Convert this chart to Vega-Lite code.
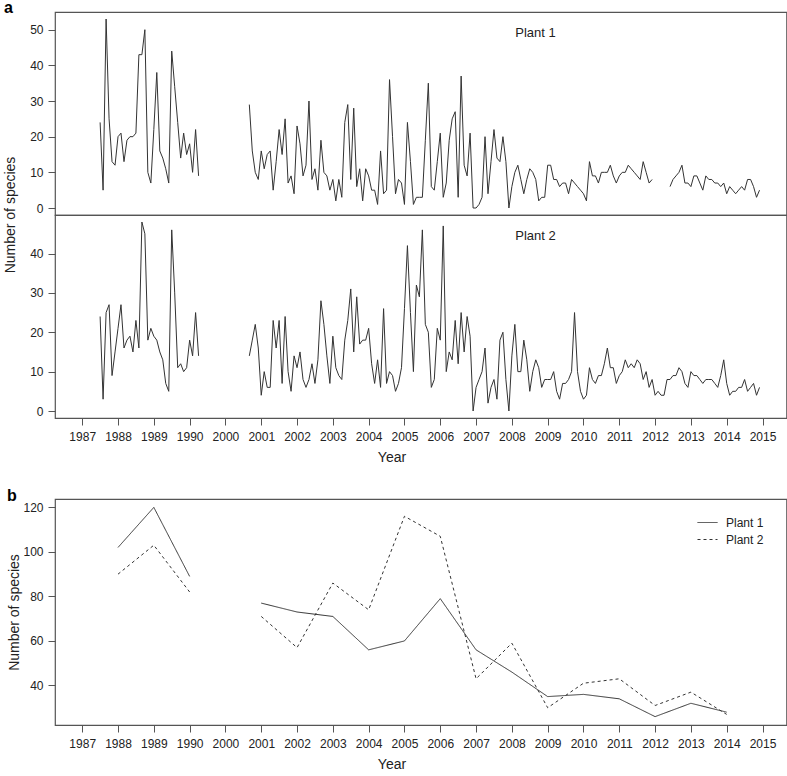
{
  "$schema": "https://vega.github.io/schema/vega-lite/v6.json",
  "padding": {"left": 3, "top": 0, "right": 3, "bottom": 2},
  "background": "white",
  "config": {
    "font": "Liberation Sans",
    "view": {"stroke": "#555", "strokeWidth": 1.2},
    "axis": {"domain": false, "grid": false, "ticks": true, "tickColor": "#555", "tickSize": 7, "tickWidth": 1, "labelFontSize": 12, "labelColor": "#222", "titleFontSize": 14, "titleFontWeight": "normal", "titleColor": "#222", "labelFlush": false, "labelOverlap": false},
    "axisY": {"labelPadding": 5, "minExtent": 22, "maxExtent": 22, "titlePadding": 7},
    "title": {"fontSize": 16, "fontWeight": "bold", "anchor": "start", "frame": "bounds", "color": "#000", "offset": -5}
  },
  "datasets": {
    "a": [
      {"p":"Plant 1","s":1,"t":0.5,"n":24},{"p":"Plant 1","s":1,"t":0.583,"n":5},{"p":"Plant 1","s":1,"t":0.667,"n":53},{"p":"Plant 1","s":1,"t":0.75,"n":25},{"p":"Plant 1","s":1,"t":0.833,"n":13},{"p":"Plant 1","s":1,"t":0.917,"n":12},
      {"p":"Plant 1","s":1,"t":1,"n":20},{"p":"Plant 1","s":1,"t":1.083,"n":21},{"p":"Plant 1","s":1,"t":1.167,"n":13},{"p":"Plant 1","s":1,"t":1.25,"n":19},{"p":"Plant 1","s":1,"t":1.333,"n":20},{"p":"Plant 1","s":1,"t":1.417,"n":20},{"p":"Plant 1","s":1,"t":1.5,"n":21},{"p":"Plant 1","s":1,"t":1.583,"n":43},{"p":"Plant 1","s":1,"t":1.667,"n":43},{"p":"Plant 1","s":1,"t":1.75,"n":50},{"p":"Plant 1","s":1,"t":1.833,"n":10},{"p":"Plant 1","s":1,"t":1.917,"n":7},
      {"p":"Plant 1","s":1,"t":2,"n":22},{"p":"Plant 1","s":1,"t":2.083,"n":38},{"p":"Plant 1","s":1,"t":2.167,"n":16},{"p":"Plant 1","s":1,"t":2.25,"n":14},{"p":"Plant 1","s":1,"t":2.333,"n":11},{"p":"Plant 1","s":1,"t":2.417,"n":7},{"p":"Plant 1","s":1,"t":2.5,"n":44},{"p":"Plant 1","s":1,"t":2.583,"n":34},{"p":"Plant 1","s":1,"t":2.667,"n":24},{"p":"Plant 1","s":1,"t":2.75,"n":14},{"p":"Plant 1","s":1,"t":2.833,"n":21},{"p":"Plant 1","s":1,"t":2.917,"n":15},
      {"p":"Plant 1","s":1,"t":3,"n":18},{"p":"Plant 1","s":1,"t":3.083,"n":10},{"p":"Plant 1","s":1,"t":3.167,"n":22},{"p":"Plant 1","s":1,"t":3.25,"n":9},
      {"p":"Plant 1","s":2,"t":4.667,"n":29},{"p":"Plant 1","s":2,"t":4.75,"n":16},{"p":"Plant 1","s":2,"t":4.833,"n":10},{"p":"Plant 1","s":2,"t":4.917,"n":8},
      {"p":"Plant 1","s":2,"t":5,"n":16},{"p":"Plant 1","s":2,"t":5.083,"n":11},{"p":"Plant 1","s":2,"t":5.167,"n":15},{"p":"Plant 1","s":2,"t":5.25,"n":16},{"p":"Plant 1","s":2,"t":5.333,"n":5},{"p":"Plant 1","s":2,"t":5.417,"n":13},{"p":"Plant 1","s":2,"t":5.5,"n":22},{"p":"Plant 1","s":2,"t":5.583,"n":15},{"p":"Plant 1","s":2,"t":5.667,"n":25},{"p":"Plant 1","s":2,"t":5.75,"n":7},{"p":"Plant 1","s":2,"t":5.833,"n":9},{"p":"Plant 1","s":2,"t":5.917,"n":4},
      {"p":"Plant 1","s":2,"t":6,"n":23},{"p":"Plant 1","s":2,"t":6.083,"n":18},{"p":"Plant 1","s":2,"t":6.167,"n":9},{"p":"Plant 1","s":2,"t":6.25,"n":12},{"p":"Plant 1","s":2,"t":6.333,"n":30},{"p":"Plant 1","s":2,"t":6.417,"n":8},{"p":"Plant 1","s":2,"t":6.5,"n":11},{"p":"Plant 1","s":2,"t":6.583,"n":5},{"p":"Plant 1","s":2,"t":6.667,"n":19},{"p":"Plant 1","s":2,"t":6.75,"n":10},{"p":"Plant 1","s":2,"t":6.833,"n":9},{"p":"Plant 1","s":2,"t":6.917,"n":5},
      {"p":"Plant 1","s":2,"t":7,"n":8},{"p":"Plant 1","s":2,"t":7.083,"n":2},{"p":"Plant 1","s":2,"t":7.167,"n":8},{"p":"Plant 1","s":2,"t":7.25,"n":3},{"p":"Plant 1","s":2,"t":7.333,"n":24},{"p":"Plant 1","s":2,"t":7.417,"n":29},{"p":"Plant 1","s":2,"t":7.5,"n":8},{"p":"Plant 1","s":2,"t":7.583,"n":28},{"p":"Plant 1","s":2,"t":7.667,"n":6},{"p":"Plant 1","s":2,"t":7.75,"n":11},{"p":"Plant 1","s":2,"t":7.833,"n":2},{"p":"Plant 1","s":2,"t":7.917,"n":11},
      {"p":"Plant 1","s":2,"t":8,"n":9},{"p":"Plant 1","s":2,"t":8.083,"n":5},{"p":"Plant 1","s":2,"t":8.167,"n":5},{"p":"Plant 1","s":2,"t":8.25,"n":1},{"p":"Plant 1","s":2,"t":8.333,"n":16},{"p":"Plant 1","s":2,"t":8.417,"n":4},{"p":"Plant 1","s":2,"t":8.5,"n":5},{"p":"Plant 1","s":2,"t":8.583,"n":36},{"p":"Plant 1","s":2,"t":8.667,"n":20},{"p":"Plant 1","s":2,"t":8.75,"n":4},{"p":"Plant 1","s":2,"t":8.833,"n":8},{"p":"Plant 1","s":2,"t":8.917,"n":7},
      {"p":"Plant 1","s":2,"t":9,"n":1},{"p":"Plant 1","s":2,"t":9.083,"n":24},{"p":"Plant 1","s":2,"t":9.167,"n":13},{"p":"Plant 1","s":2,"t":9.25,"n":1},{"p":"Plant 1","s":2,"t":9.333,"n":3},{"p":"Plant 1","s":2,"t":9.417,"n":3},{"p":"Plant 1","s":2,"t":9.5,"n":3},{"p":"Plant 1","s":2,"t":9.583,"n":19},{"p":"Plant 1","s":2,"t":9.667,"n":35},{"p":"Plant 1","s":2,"t":9.75,"n":6},{"p":"Plant 1","s":2,"t":9.833,"n":5},{"p":"Plant 1","s":2,"t":9.917,"n":13},
      {"p":"Plant 1","s":2,"t":10,"n":21},{"p":"Plant 1","s":2,"t":10.083,"n":3},{"p":"Plant 1","s":2,"t":10.167,"n":7},{"p":"Plant 1","s":2,"t":10.25,"n":19},{"p":"Plant 1","s":2,"t":10.333,"n":25},{"p":"Plant 1","s":2,"t":10.417,"n":27},{"p":"Plant 1","s":2,"t":10.5,"n":3},{"p":"Plant 1","s":2,"t":10.583,"n":37},{"p":"Plant 1","s":2,"t":10.667,"n":12},{"p":"Plant 1","s":2,"t":10.75,"n":9},{"p":"Plant 1","s":2,"t":10.833,"n":21},{"p":"Plant 1","s":2,"t":10.917,"n":0},
      {"p":"Plant 1","s":2,"t":11,"n":0},{"p":"Plant 1","s":2,"t":11.083,"n":1},{"p":"Plant 1","s":2,"t":11.167,"n":3},{"p":"Plant 1","s":2,"t":11.25,"n":20},{"p":"Plant 1","s":2,"t":11.333,"n":4},{"p":"Plant 1","s":2,"t":11.417,"n":13},{"p":"Plant 1","s":2,"t":11.5,"n":22},{"p":"Plant 1","s":2,"t":11.583,"n":14},{"p":"Plant 1","s":2,"t":11.667,"n":13},{"p":"Plant 1","s":2,"t":11.75,"n":20},{"p":"Plant 1","s":2,"t":11.833,"n":13},{"p":"Plant 1","s":2,"t":11.917,"n":0},
      {"p":"Plant 1","s":2,"t":12,"n":6},{"p":"Plant 1","s":2,"t":12.083,"n":10},{"p":"Plant 1","s":2,"t":12.167,"n":12},{"p":"Plant 1","s":2,"t":12.25,"n":8},{"p":"Plant 1","s":2,"t":12.333,"n":4},{"p":"Plant 1","s":2,"t":12.417,"n":8},{"p":"Plant 1","s":2,"t":12.5,"n":11},{"p":"Plant 1","s":2,"t":12.583,"n":10},{"p":"Plant 1","s":2,"t":12.667,"n":8},{"p":"Plant 1","s":2,"t":12.75,"n":2},{"p":"Plant 1","s":2,"t":12.833,"n":3},{"p":"Plant 1","s":2,"t":12.917,"n":3},
      {"p":"Plant 1","s":2,"t":13,"n":12},{"p":"Plant 1","s":2,"t":13.083,"n":12},{"p":"Plant 1","s":2,"t":13.167,"n":8},{"p":"Plant 1","s":2,"t":13.25,"n":8},{"p":"Plant 1","s":2,"t":13.333,"n":6},{"p":"Plant 1","s":2,"t":13.417,"n":7},{"p":"Plant 1","s":2,"t":13.5,"n":7},{"p":"Plant 1","s":2,"t":13.583,"n":4},{"p":"Plant 1","s":2,"t":13.667,"n":8},{"p":"Plant 1","s":2,"t":13.75,"n":7},{"p":"Plant 1","s":2,"t":13.833,"n":6},{"p":"Plant 1","s":2,"t":13.917,"n":5},
      {"p":"Plant 1","s":2,"t":14,"n":4},{"p":"Plant 1","s":2,"t":14.083,"n":2},{"p":"Plant 1","s":2,"t":14.167,"n":13},{"p":"Plant 1","s":2,"t":14.25,"n":9},{"p":"Plant 1","s":2,"t":14.333,"n":9},{"p":"Plant 1","s":2,"t":14.417,"n":7},{"p":"Plant 1","s":2,"t":14.5,"n":10},{"p":"Plant 1","s":2,"t":14.583,"n":10},{"p":"Plant 1","s":2,"t":14.667,"n":10},{"p":"Plant 1","s":2,"t":14.75,"n":12},{"p":"Plant 1","s":2,"t":14.833,"n":9},{"p":"Plant 1","s":2,"t":14.917,"n":7},
      {"p":"Plant 1","s":2,"t":15,"n":9},{"p":"Plant 1","s":2,"t":15.083,"n":10},{"p":"Plant 1","s":2,"t":15.167,"n":10},{"p":"Plant 1","s":2,"t":15.25,"n":12},{"p":"Plant 1","s":2,"t":15.333,"n":11},{"p":"Plant 1","s":2,"t":15.417,"n":10},{"p":"Plant 1","s":2,"t":15.5,"n":9},{"p":"Plant 1","s":2,"t":15.583,"n":8},{"p":"Plant 1","s":2,"t":15.667,"n":13},{"p":"Plant 1","s":2,"t":15.75,"n":10},{"p":"Plant 1","s":2,"t":15.833,"n":7},{"p":"Plant 1","s":2,"t":15.917,"n":8},
      {"p":"Plant 1","s":3,"t":16.417,"n":6},{"p":"Plant 1","s":3,"t":16.5,"n":8},{"p":"Plant 1","s":3,"t":16.583,"n":9},{"p":"Plant 1","s":3,"t":16.667,"n":10},{"p":"Plant 1","s":3,"t":16.75,"n":12},{"p":"Plant 1","s":3,"t":16.833,"n":7},{"p":"Plant 1","s":3,"t":16.917,"n":7},
      {"p":"Plant 1","s":3,"t":17,"n":6},{"p":"Plant 1","s":3,"t":17.083,"n":9},{"p":"Plant 1","s":3,"t":17.167,"n":9},{"p":"Plant 1","s":3,"t":17.25,"n":7},{"p":"Plant 1","s":3,"t":17.333,"n":5},{"p":"Plant 1","s":3,"t":17.417,"n":9},{"p":"Plant 1","s":3,"t":17.5,"n":8},{"p":"Plant 1","s":3,"t":17.583,"n":8},{"p":"Plant 1","s":3,"t":17.667,"n":7},{"p":"Plant 1","s":3,"t":17.75,"n":7},{"p":"Plant 1","s":3,"t":17.833,"n":6},{"p":"Plant 1","s":3,"t":17.917,"n":7},
      {"p":"Plant 1","s":3,"t":18,"n":4},{"p":"Plant 1","s":3,"t":18.083,"n":6},{"p":"Plant 1","s":3,"t":18.167,"n":5},{"p":"Plant 1","s":3,"t":18.25,"n":4},{"p":"Plant 1","s":3,"t":18.333,"n":5},{"p":"Plant 1","s":3,"t":18.417,"n":6},{"p":"Plant 1","s":3,"t":18.5,"n":5},{"p":"Plant 1","s":3,"t":18.583,"n":8},{"p":"Plant 1","s":3,"t":18.667,"n":8},{"p":"Plant 1","s":3,"t":18.75,"n":6},{"p":"Plant 1","s":3,"t":18.833,"n":3},{"p":"Plant 1","s":3,"t":18.917,"n":5},
      {"p":"Plant 2","s":1,"t":0.5,"n":24},{"p":"Plant 2","s":1,"t":0.583,"n":3},{"p":"Plant 2","s":1,"t":0.667,"n":25},{"p":"Plant 2","s":1,"t":0.75,"n":27},{"p":"Plant 2","s":1,"t":0.833,"n":9},{"p":"Plant 2","s":1,"t":0.917,"n":15},
      {"p":"Plant 2","s":1,"t":1,"n":21},{"p":"Plant 2","s":1,"t":1.083,"n":27},{"p":"Plant 2","s":1,"t":1.167,"n":16},{"p":"Plant 2","s":1,"t":1.25,"n":18},{"p":"Plant 2","s":1,"t":1.333,"n":19},{"p":"Plant 2","s":1,"t":1.417,"n":15},{"p":"Plant 2","s":1,"t":1.5,"n":23},{"p":"Plant 2","s":1,"t":1.583,"n":16},{"p":"Plant 2","s":1,"t":1.667,"n":48},{"p":"Plant 2","s":1,"t":1.75,"n":45},{"p":"Plant 2","s":1,"t":1.833,"n":18},{"p":"Plant 2","s":1,"t":1.917,"n":21},
      {"p":"Plant 2","s":1,"t":2,"n":19},{"p":"Plant 2","s":1,"t":2.083,"n":18},{"p":"Plant 2","s":1,"t":2.167,"n":15},{"p":"Plant 2","s":1,"t":2.25,"n":13},{"p":"Plant 2","s":1,"t":2.333,"n":7},{"p":"Plant 2","s":1,"t":2.417,"n":5},{"p":"Plant 2","s":1,"t":2.5,"n":46},{"p":"Plant 2","s":1,"t":2.583,"n":30},{"p":"Plant 2","s":1,"t":2.667,"n":11},{"p":"Plant 2","s":1,"t":2.75,"n":12},{"p":"Plant 2","s":1,"t":2.833,"n":10},{"p":"Plant 2","s":1,"t":2.917,"n":11},
      {"p":"Plant 2","s":1,"t":3,"n":18},{"p":"Plant 2","s":1,"t":3.083,"n":14},{"p":"Plant 2","s":1,"t":3.167,"n":25},{"p":"Plant 2","s":1,"t":3.25,"n":14},
      {"p":"Plant 2","s":2,"t":4.667,"n":14},{"p":"Plant 2","s":2,"t":4.75,"n":18},{"p":"Plant 2","s":2,"t":4.833,"n":22},{"p":"Plant 2","s":2,"t":4.917,"n":16},
      {"p":"Plant 2","s":2,"t":5,"n":4},{"p":"Plant 2","s":2,"t":5.083,"n":10},{"p":"Plant 2","s":2,"t":5.167,"n":6},{"p":"Plant 2","s":2,"t":5.25,"n":6},{"p":"Plant 2","s":2,"t":5.333,"n":23},{"p":"Plant 2","s":2,"t":5.417,"n":16},{"p":"Plant 2","s":2,"t":5.5,"n":23},{"p":"Plant 2","s":2,"t":5.583,"n":7},{"p":"Plant 2","s":2,"t":5.667,"n":24},{"p":"Plant 2","s":2,"t":5.75,"n":10},{"p":"Plant 2","s":2,"t":5.833,"n":5},{"p":"Plant 2","s":2,"t":5.917,"n":14},
      {"p":"Plant 2","s":2,"t":6,"n":11},{"p":"Plant 2","s":2,"t":6.083,"n":15},{"p":"Plant 2","s":2,"t":6.167,"n":8},{"p":"Plant 2","s":2,"t":6.25,"n":6},{"p":"Plant 2","s":2,"t":6.333,"n":8},{"p":"Plant 2","s":2,"t":6.417,"n":12},{"p":"Plant 2","s":2,"t":6.5,"n":7},{"p":"Plant 2","s":2,"t":6.583,"n":13},{"p":"Plant 2","s":2,"t":6.667,"n":28},{"p":"Plant 2","s":2,"t":6.75,"n":22},{"p":"Plant 2","s":2,"t":6.833,"n":14},{"p":"Plant 2","s":2,"t":6.917,"n":7},
      {"p":"Plant 2","s":2,"t":7,"n":19},{"p":"Plant 2","s":2,"t":7.083,"n":11},{"p":"Plant 2","s":2,"t":7.167,"n":9},{"p":"Plant 2","s":2,"t":7.25,"n":8},{"p":"Plant 2","s":2,"t":7.333,"n":18},{"p":"Plant 2","s":2,"t":7.417,"n":23},{"p":"Plant 2","s":2,"t":7.5,"n":31},{"p":"Plant 2","s":2,"t":7.583,"n":15},{"p":"Plant 2","s":2,"t":7.667,"n":29},{"p":"Plant 2","s":2,"t":7.75,"n":17},{"p":"Plant 2","s":2,"t":7.833,"n":18},{"p":"Plant 2","s":2,"t":7.917,"n":18},
      {"p":"Plant 2","s":2,"t":8,"n":21},{"p":"Plant 2","s":2,"t":8.083,"n":12},{"p":"Plant 2","s":2,"t":8.167,"n":7},{"p":"Plant 2","s":2,"t":8.25,"n":13},{"p":"Plant 2","s":2,"t":8.333,"n":6},{"p":"Plant 2","s":2,"t":8.417,"n":26},{"p":"Plant 2","s":2,"t":8.5,"n":7},{"p":"Plant 2","s":2,"t":8.583,"n":10},{"p":"Plant 2","s":2,"t":8.667,"n":9},{"p":"Plant 2","s":2,"t":8.75,"n":5},{"p":"Plant 2","s":2,"t":8.833,"n":7},{"p":"Plant 2","s":2,"t":8.917,"n":11},
      {"p":"Plant 2","s":2,"t":9,"n":26},{"p":"Plant 2","s":2,"t":9.083,"n":42},{"p":"Plant 2","s":2,"t":9.167,"n":25},{"p":"Plant 2","s":2,"t":9.25,"n":10},{"p":"Plant 2","s":2,"t":9.333,"n":32},{"p":"Plant 2","s":2,"t":9.417,"n":29},{"p":"Plant 2","s":2,"t":9.5,"n":46},{"p":"Plant 2","s":2,"t":9.583,"n":22},{"p":"Plant 2","s":2,"t":9.667,"n":20},{"p":"Plant 2","s":2,"t":9.75,"n":6},{"p":"Plant 2","s":2,"t":9.833,"n":8},{"p":"Plant 2","s":2,"t":9.917,"n":21},
      {"p":"Plant 2","s":2,"t":10,"n":18},{"p":"Plant 2","s":2,"t":10.083,"n":47},{"p":"Plant 2","s":2,"t":10.167,"n":10},{"p":"Plant 2","s":2,"t":10.25,"n":15},{"p":"Plant 2","s":2,"t":10.333,"n":13},{"p":"Plant 2","s":2,"t":10.417,"n":23},{"p":"Plant 2","s":2,"t":10.5,"n":12},{"p":"Plant 2","s":2,"t":10.583,"n":25},{"p":"Plant 2","s":2,"t":10.667,"n":15},{"p":"Plant 2","s":2,"t":10.75,"n":24},{"p":"Plant 2","s":2,"t":10.833,"n":19},{"p":"Plant 2","s":2,"t":10.917,"n":0},
      {"p":"Plant 2","s":2,"t":11,"n":6},{"p":"Plant 2","s":2,"t":11.083,"n":8},{"p":"Plant 2","s":2,"t":11.167,"n":10},{"p":"Plant 2","s":2,"t":11.25,"n":16},{"p":"Plant 2","s":2,"t":11.333,"n":2},{"p":"Plant 2","s":2,"t":11.417,"n":6},{"p":"Plant 2","s":2,"t":11.5,"n":8},{"p":"Plant 2","s":2,"t":11.583,"n":3},{"p":"Plant 2","s":2,"t":11.667,"n":18},{"p":"Plant 2","s":2,"t":11.75,"n":20},{"p":"Plant 2","s":2,"t":11.833,"n":8},{"p":"Plant 2","s":2,"t":11.917,"n":0},
      {"p":"Plant 2","s":2,"t":12,"n":14},{"p":"Plant 2","s":2,"t":12.083,"n":22},{"p":"Plant 2","s":2,"t":12.167,"n":10},{"p":"Plant 2","s":2,"t":12.25,"n":10},{"p":"Plant 2","s":2,"t":12.333,"n":18},{"p":"Plant 2","s":2,"t":12.417,"n":13},{"p":"Plant 2","s":2,"t":12.5,"n":5},{"p":"Plant 2","s":2,"t":12.583,"n":10},{"p":"Plant 2","s":2,"t":12.667,"n":13},{"p":"Plant 2","s":2,"t":12.75,"n":11},{"p":"Plant 2","s":2,"t":12.833,"n":6},{"p":"Plant 2","s":2,"t":12.917,"n":8},
      {"p":"Plant 2","s":2,"t":13,"n":8},{"p":"Plant 2","s":2,"t":13.083,"n":8},{"p":"Plant 2","s":2,"t":13.167,"n":10},{"p":"Plant 2","s":2,"t":13.25,"n":5},{"p":"Plant 2","s":2,"t":13.333,"n":3},{"p":"Plant 2","s":2,"t":13.417,"n":7},{"p":"Plant 2","s":2,"t":13.5,"n":7},{"p":"Plant 2","s":2,"t":13.583,"n":8},{"p":"Plant 2","s":2,"t":13.667,"n":10},{"p":"Plant 2","s":2,"t":13.75,"n":25},{"p":"Plant 2","s":2,"t":13.833,"n":10},{"p":"Plant 2","s":2,"t":13.917,"n":5},
      {"p":"Plant 2","s":2,"t":14,"n":3},{"p":"Plant 2","s":2,"t":14.083,"n":4},{"p":"Plant 2","s":2,"t":14.167,"n":11},{"p":"Plant 2","s":2,"t":14.25,"n":8},{"p":"Plant 2","s":2,"t":14.333,"n":7},{"p":"Plant 2","s":2,"t":14.417,"n":9},{"p":"Plant 2","s":2,"t":14.5,"n":9},{"p":"Plant 2","s":2,"t":14.583,"n":12},{"p":"Plant 2","s":2,"t":14.667,"n":16},{"p":"Plant 2","s":2,"t":14.75,"n":11},{"p":"Plant 2","s":2,"t":14.833,"n":11},{"p":"Plant 2","s":2,"t":14.917,"n":7},
      {"p":"Plant 2","s":2,"t":15,"n":9},{"p":"Plant 2","s":2,"t":15.083,"n":10},{"p":"Plant 2","s":2,"t":15.167,"n":13},{"p":"Plant 2","s":2,"t":15.25,"n":11},{"p":"Plant 2","s":2,"t":15.333,"n":12},{"p":"Plant 2","s":2,"t":15.417,"n":11},{"p":"Plant 2","s":2,"t":15.5,"n":13},{"p":"Plant 2","s":2,"t":15.583,"n":12},{"p":"Plant 2","s":2,"t":15.667,"n":8},{"p":"Plant 2","s":2,"t":15.75,"n":10},{"p":"Plant 2","s":2,"t":15.833,"n":6},{"p":"Plant 2","s":2,"t":15.917,"n":8},
      {"p":"Plant 2","s":2,"t":16,"n":4},{"p":"Plant 2","s":2,"t":16.083,"n":5},{"p":"Plant 2","s":2,"t":16.167,"n":4},{"p":"Plant 2","s":2,"t":16.25,"n":4},{"p":"Plant 2","s":2,"t":16.333,"n":8},{"p":"Plant 2","s":2,"t":16.417,"n":8},{"p":"Plant 2","s":2,"t":16.5,"n":9},{"p":"Plant 2","s":2,"t":16.583,"n":9},{"p":"Plant 2","s":2,"t":16.667,"n":11},{"p":"Plant 2","s":2,"t":16.75,"n":10},{"p":"Plant 2","s":2,"t":16.833,"n":7},{"p":"Plant 2","s":2,"t":16.917,"n":6},
      {"p":"Plant 2","s":2,"t":17,"n":10},{"p":"Plant 2","s":2,"t":17.083,"n":9},{"p":"Plant 2","s":2,"t":17.167,"n":9},{"p":"Plant 2","s":2,"t":17.25,"n":8},{"p":"Plant 2","s":2,"t":17.333,"n":7},{"p":"Plant 2","s":2,"t":17.417,"n":8},{"p":"Plant 2","s":2,"t":17.5,"n":8},{"p":"Plant 2","s":2,"t":17.583,"n":8},{"p":"Plant 2","s":2,"t":17.667,"n":7},{"p":"Plant 2","s":2,"t":17.75,"n":6},{"p":"Plant 2","s":2,"t":17.833,"n":9},{"p":"Plant 2","s":2,"t":17.917,"n":13},
      {"p":"Plant 2","s":2,"t":18,"n":7},{"p":"Plant 2","s":2,"t":18.083,"n":4},{"p":"Plant 2","s":2,"t":18.167,"n":5},{"p":"Plant 2","s":2,"t":18.25,"n":5},{"p":"Plant 2","s":2,"t":18.333,"n":6},{"p":"Plant 2","s":2,"t":18.417,"n":6},{"p":"Plant 2","s":2,"t":18.5,"n":8},{"p":"Plant 2","s":2,"t":18.583,"n":5},{"p":"Plant 2","s":2,"t":18.667,"n":6},{"p":"Plant 2","s":2,"t":18.75,"n":7},{"p":"Plant 2","s":2,"t":18.833,"n":4},{"p":"Plant 2","s":2,"t":18.917,"n":6}
    ],
    "b": [
      {"plant":"Plant 1","s":1,"t":1,"n":102},{"plant":"Plant 1","s":1,"t":2,"n":120},{"plant":"Plant 1","s":1,"t":3,"n":89},
      {"plant":"Plant 1","s":2,"t":5,"n":77},{"plant":"Plant 1","s":2,"t":6,"n":73},{"plant":"Plant 1","s":2,"t":7,"n":71},{"plant":"Plant 1","s":2,"t":8,"n":56},{"plant":"Plant 1","s":2,"t":9,"n":60},{"plant":"Plant 1","s":2,"t":10,"n":79},{"plant":"Plant 1","s":2,"t":11,"n":56},{"plant":"Plant 1","s":2,"t":12,"n":46},{"plant":"Plant 1","s":2,"t":13,"n":35},{"plant":"Plant 1","s":2,"t":14,"n":36},{"plant":"Plant 1","s":2,"t":15,"n":34},{"plant":"Plant 1","s":2,"t":16,"n":26},{"plant":"Plant 1","s":2,"t":17,"n":32},{"plant":"Plant 1","s":2,"t":18,"n":28},
      {"plant":"Plant 2","s":1,"t":1,"n":90},{"plant":"Plant 2","s":1,"t":2,"n":103},{"plant":"Plant 2","s":1,"t":3,"n":82},
      {"plant":"Plant 2","s":2,"t":5,"n":71},{"plant":"Plant 2","s":2,"t":6,"n":57},{"plant":"Plant 2","s":2,"t":7,"n":86},{"plant":"Plant 2","s":2,"t":8,"n":74},{"plant":"Plant 2","s":2,"t":9,"n":116},{"plant":"Plant 2","s":2,"t":10,"n":107},{"plant":"Plant 2","s":2,"t":11,"n":43},{"plant":"Plant 2","s":2,"t":12,"n":59},{"plant":"Plant 2","s":2,"t":13,"n":30},{"plant":"Plant 2","s":2,"t":14,"n":41},{"plant":"Plant 2","s":2,"t":15,"n":43},{"plant":"Plant 2","s":2,"t":16,"n":31},{"plant":"Plant 2","s":2,"t":17,"n":37},{"plant":"Plant 2","s":2,"t":18,"n":27}
    ]
  },
  "spacing": 23,
  "vconcat": [
    {
      "title": {"text": "a"},
      "data": {"name": "a"},
      "facet": {"row": {"field": "p", "type": "nominal", "sort": ["Plant 1", "Plant 2"], "header": {"title": "Number of species", "labels": false, "titleFontSize": 14, "titleFontWeight": "normal", "titleColor": "#222", "titlePadding": 27}}},
      "spacing": 0,
      "bounds": "flush",
      "resolve": {"scale": {"y": "independent"}, "axis": {"y": "independent"}},
      "spec": {
        "width": 731.5,
        "height": 203,
        "layer": [
          {
            "mark": {"type": "line", "color": "#333", "strokeWidth": 1},
            "encoding": {
              "x": {"field": "t", "type": "quantitative", "scale": {"domain": [-0.76, 19.67], "nice": false, "zero": false}, "axis": {"values": [0,1,2,3,4,5,6,7,8,9,10,11,12,13,14,15,16,17,18,19], "labelExpr": "datum.value <= 3 ? '' + (1987 + datum.value) : '' + (1996 + datum.value)", "labelOverlap": false, "title": "Year", "labelPadding": 6, "titlePadding": 8, "titleX": 336.5}},
              "y": {"field": "n", "type": "quantitative", "scale": {"nice": false, "zero": false, "padding": 7}, "axis": {"values": [0, 10, 20, 30, 40, 50], "title": null}},
              "detail": {"field": "s", "type": "nominal"}
            }
          },
          {
            "transform": [{"aggregate": [{"op": "max", "field": "n", "as": "top"}], "groupby": ["p"]}],
            "mark": {"type": "text", "fontSize": 13, "color": "#222", "dy": 14},
            "encoding": {
              "x": {"datum": 12.66, "type": "quantitative", "axis": {"values": [0,1,2,3,4,5,6,7,8,9,10,11,12,13,14,15,16,17,18,19], "labelExpr": "datum.value <= 3 ? '' + (1987 + datum.value) : '' + (1996 + datum.value)", "labelOverlap": false, "title": "Year", "labelPadding": 6, "titlePadding": 8, "titleX": 336.5}},
              "y": {"field": "top", "type": "quantitative", "axis": {"values": [0, 10, 20, 30, 40, 50], "title": null}},
              "text": {"field": "p"}
            }
          }
        ]
      }
    },
    {
      "title": {"text": "b"},
      "width": 731.5,
      "height": 226,
      "data": {"name": "b"},
      "mark": {"type": "line", "color": "#333", "strokeWidth": 1},
      "encoding": {
        "x": {"field": "t", "type": "quantitative", "scale": {"domain": [-0.76, 19.67], "nice": false, "zero": false}, "axis": {"values": [0,1,2,3,4,5,6,7,8,9,10,11,12,13,14,15,16,17,18,19], "labelExpr": "datum.value <= 3 ? '' + (1987 + datum.value) : '' + (1996 + datum.value)", "labelOverlap": false, "title": "Year", "labelPadding": 6, "titlePadding": 8, "titleX": 336.5}},
        "y": {"field": "n", "type": "quantitative", "scale": {"domain": [22.24, 123.76], "nice": false, "zero": false}, "axis": {"values": [40, 60, 80, 100, 120], "title": "Number of species", "minExtent": 27, "maxExtent": 27, "titlePadding": 7}},
        "detail": {"field": "s", "type": "nominal"},
        "strokeDash": {"field": "plant", "type": "nominal", "scale": {"domain": ["Plant 1", "Plant 2"], "range": [[1, 0], [3, 3]]}, "legend": {"orient": "none", "legendX": 642, "legendY": 500, "title": null, "symbolType": "stroke", "symbolSize": 400, "symbolStrokeWidth": 1, "symbolStrokeColor": "#333", "labelFontSize": 12, "labelColor": "#222", "rowPadding": -8, "labelOffset": 8}}
      }
    }
  ]
}
